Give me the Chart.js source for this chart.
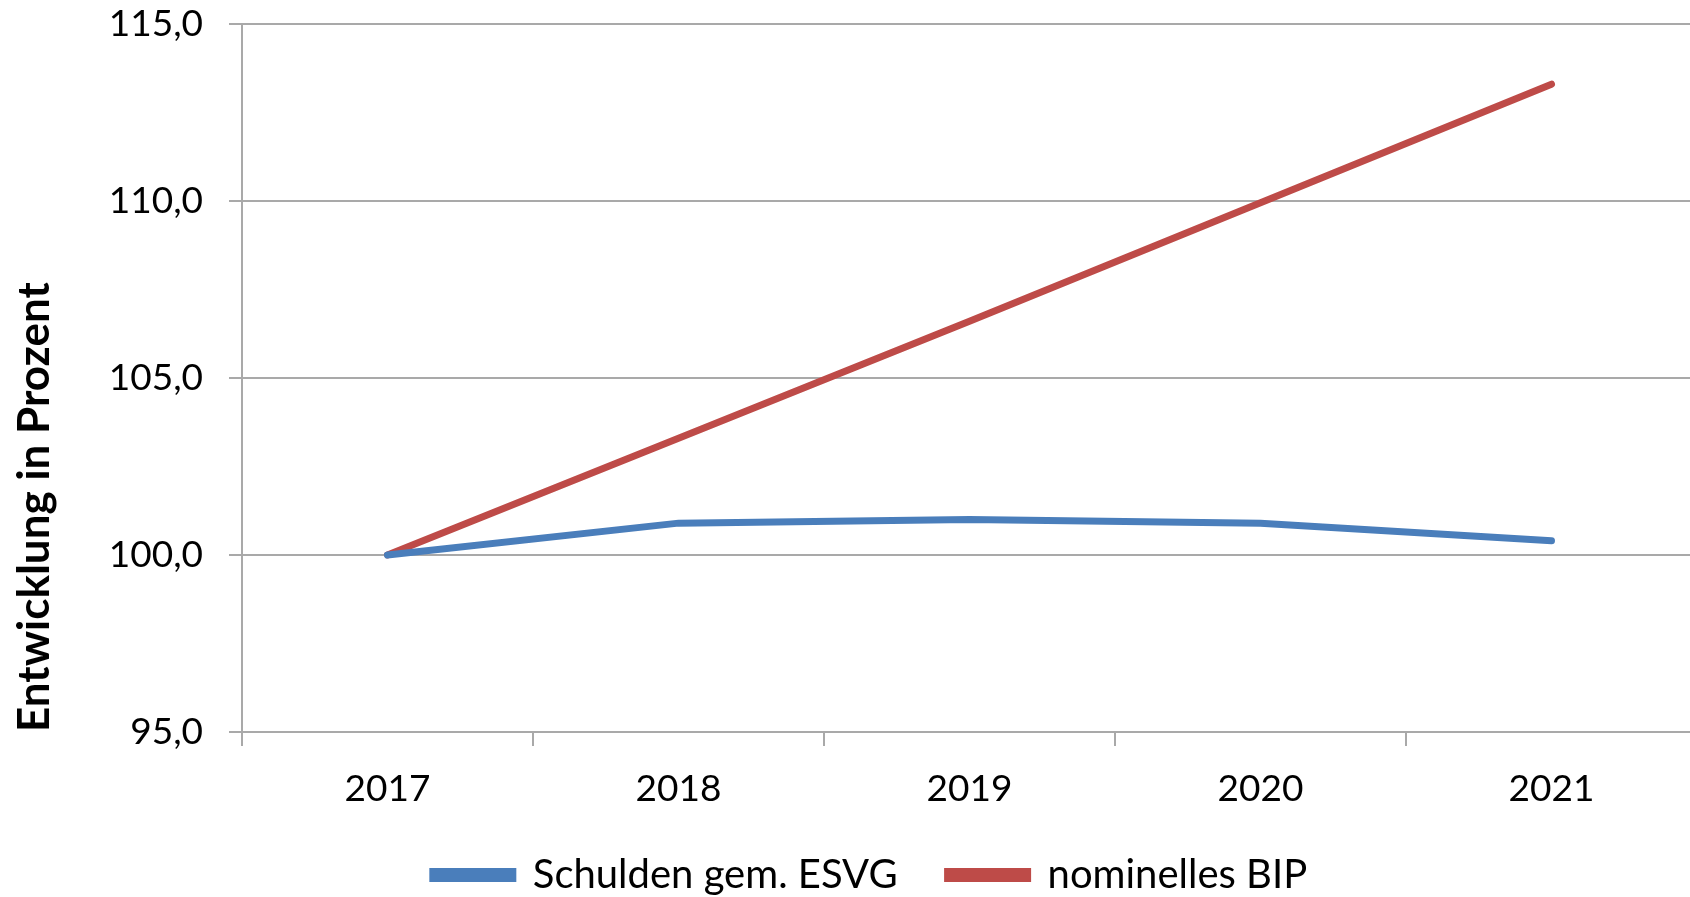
<!DOCTYPE html>
<html>
<head>
<meta charset="utf-8">
<script src="https://cdn.jsdelivr.net/npm/chart.js@4"></script>
<style>
  html, body { margin: 0; padding: 0; background: #fff; overflow: hidden; }
  #wrap { width: 1740px; height: 897px; }
</style>
</head>
<body>
<div id="wrap"><canvas id="chart" width="1740" height="897"></canvas></div>
<script>
// Jahre und Indexwerte (2017 = 100)
const years = ['2017', '2018', '2019', '2020', '2021'];
const schulden = [100.0, 100.9, 101.0, 100.9, 100.4];
const bip = [100.0, 103.3, 106.6, 109.95, 113.3];
const yTicks = [95, 100, 105, 110, 115];

const gridColor = '#a9a9a9';
const font = 'Lato, "Open Sans", sans-serif';

const ctx = document.getElementById('chart').getContext('2d');

new Chart(ctx, {
    type: 'line',
    data: {
        labels: years,
        datasets: [{
            label: 'Schulden gem. ESVG',
            data: schulden,
            borderColor: '#4a7ebb',
            backgroundColor: '#4a7ebb',
            borderWidth: 7,
            borderCapStyle: 'round',
            pointRadius: 0,
            tension: 0
        }, {
            label: 'nominelles BIP',
            data: bip,
            borderColor: '#be4b48',
            backgroundColor: '#be4b48',
            borderWidth: 7,
            borderCapStyle: 'round',
            pointRadius: 0,
            tension: 0
        }]
    },
    options: {
        responsive: false,
        animation: false,
        layout: { padding: { top: 24, left: 0, right: 0, bottom: 0 } },
        scales: {
            x: {
                offset: true,
                grid: {
                    display: true,
                    offset: true,
                    drawOnChartArea: false,
                    tickLength: 14,
                    color: gridColor,
                    lineWidth: 2
                },
                border: { color: gridColor, width: 2 },
                ticks: { color: '#000', padding: 21, font: { family: font, size: 37 } },
                afterFit: (s) => { s.height = 73; }
            },
            y: {
                min: 95,
                max: 115,
                afterBuildTicks: (s) => { s.ticks = yTicks.map(v => ({ value: v })); },
                grid: { color: gridColor, lineWidth: 2, tickLength: 13 },
                border: { color: gridColor, width: 2 },
                ticks: {
                    color: '#000',
                    padding: 26,
                    font: { family: font, size: 37 },
                    callback: (v) => v.toFixed(1).replace('.', ',')
                },
                title: {
                    display: true,
                    text: 'Entwicklung in Prozent',
                    align: 'start',
                    color: '#000',
                    padding: { top: 8, bottom: 0 },
                    font: { family: font, size: 44, weight: 'bold' }
                },
                afterFit: (s) => {
                    s.width = 242;
                    // tick padding should not push the plot area down
                    s.paddingTop = 0;
                    s.paddingBottom = 0;
                }
            },
            // unsichtbare rechte Achse, damit die Legende wie im Original sitzt
            y2: {
                position: 'right',
                display: true,
                grid: { display: false, drawTicks: false },
                border: { display: false },
                ticks: { display: false },
                afterFit: (s) => { s.width = 43; s.paddingTop = 0; s.paddingBottom = 0; }
            }
        },
        plugins: {
            tooltip: { enabled: false },
            legend: {
                position: 'bottom',
                maxHeight: 92,
                labels: {
                    boxWidth: 80,
                    boxHeight: 7,
                    padding: 50,
                    color: '#000',
                    font: { family: font, size: 40 }
                }
            }
        }
    }
});
</script>
</body>
</html>
